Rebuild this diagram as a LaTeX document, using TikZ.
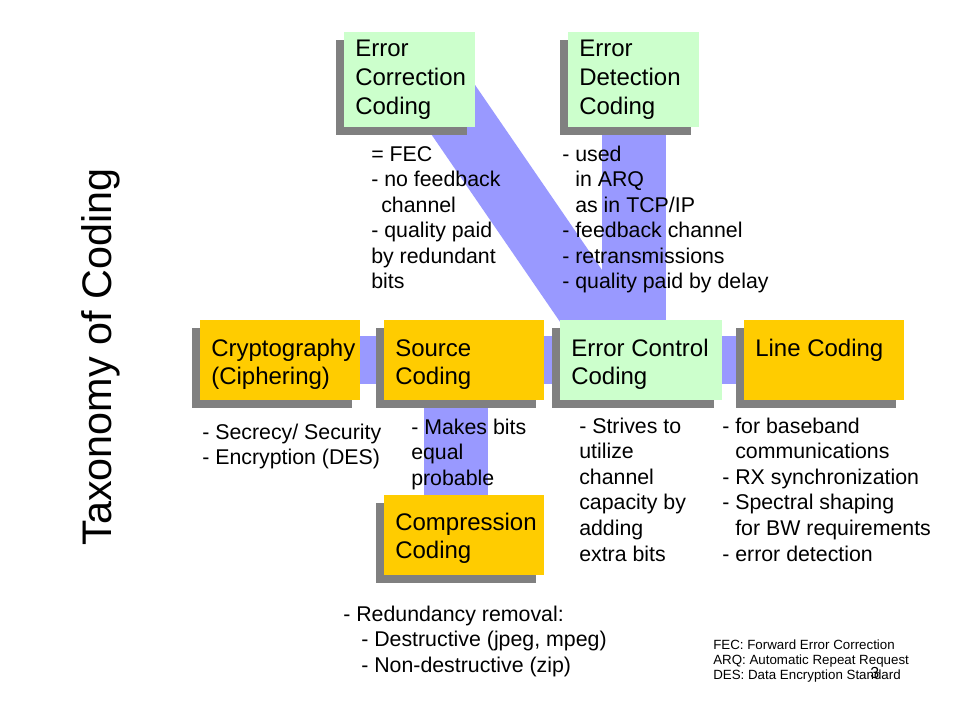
\documentclass[tikz,border=0pt]{standalone}
\usepackage{fontspec}
\setmainfont{Liberation Sans}
\usetikzlibrary{shadows,backgrounds,calc}

\definecolor{codeyellow}{HTML}{FFCC00}
\definecolor{codegreen}{HTML}{CCFFCC}
\definecolor{bandblue}{HTML}{9999FF}
\definecolor{boxgray}{HTML}{808080}

\tikzset{
  box/.style={rectangle, inner sep=0pt, drop shadow={shadow xshift=-6pt, shadow yshift=-6pt, fill=boxgray, opacity=1}},
  codebox/.style={box, fill=codeyellow, minimum width=120pt, minimum height=60pt},
  ctrlbox/.style={box, fill=codegreen},
  band/.style={draw=bandblue, line width=48pt},
  boxtext/.style={anchor=base west, inner sep=0pt, align=left, font=\fontsize{18}{21.6}\selectfont},
  note/.style={anchor=base west, inner sep=0pt, align=left, font=\fontsize{16}{19.2}\selectfont},
}

\begin{document}
\begin{tikzpicture}[x=0.75pt,y=0.75pt,yscale=-1,xscale=1]
\path[use as bounding box] (0,0) rectangle (960,720);

% Boxes
\node[ctrlbox, minimum width=98.25pt, minimum height=71.25pt] (corr) at (409.5,79.5) {};
\node[ctrlbox, minimum width=98.25pt, minimum height=71.25pt] (detect) at (633.5,79.5) {};
\node[codebox] (crypt) at (280,360) {};
\node[codebox] (source) at (463.5,360) {};
\node[ctrlbox, minimum width=121.5pt, minimum height=60pt] (control) at (641,360) {};
\node[codebox] (line) at (823.5,360) {};
\node[codebox] (compress) at (463.5,535) {};

% Bands
\begin{scope}[on background layer]
\draw[band, line width=36pt] (crypt) -- (line);
\draw[band] ($(source.center)+(-7.5,0)$) -- ($(compress.center)+(-7.5,0)$);
\draw[band] (detect.center) -- (detect.center |- control.center);
\draw[band] ($(corr.center)+(23,0)$) -- ($(control.center)+(-16,0)$);
\end{scope}

% Text Nodes (anchored at the baseline of the last line)
\draw (111,357) node [rotate=90, anchor=base, inner sep=0pt, font=\fontsize{31}{37}\selectfont] (title) {Taxonomy of Coding};

\draw (355,114.6) node [boxtext] (corrtext) {Error\\Correction\\Coding};

\draw (579,114.6) node [boxtext] (detecttext) {Error\\Detection\\Coding};

\draw (211,384.8) node [boxtext] (crypttext) {Cryptography\\(Ciphering)};

\draw (395,384.8) node [boxtext] (sourcetext) {Source\\Coding};

\draw (571,384.8) node [boxtext] (controltext) {Error Control\\Coding};

\draw (755,356) node [boxtext] (linetext) {Line Coding};

\draw (395,558.8) node [boxtext] (compresstext) {Compression\\Coding};

\draw (371,289) node [note] (corrnote) {= FEC\\- no feedback\\\hspace*{7.5pt}channel\\- quality paid\\by redundant\\bits};

\draw (562,289) node [note] (detectnote) {- used\\\hphantom{- }in ARQ\\\hphantom{- }as in TCP/IP\\- feedback channel\\- retransmissions\\- quality paid by delay};

\draw (202,464.6) node [note] (cryptnote) {- Secrecy/ Security\\- Encryption (DES)};

\draw (411,485.2) node [note] (sourcenote) {- Makes bits\\equal\\probable};

\draw (579,561) node [note] (controlnote) {- Strives to\\utilize\\channel\\capacity by\\adding\\extra bits};

\draw (722,561) node [note] (linenote) {- for baseband\\\hphantom{- }communications\\- RX synchronization\\- Spectral shaping\\\hphantom{- }for BW requirements\\- error detection};

\draw (343,672.2) node [note] (compressnote) {- Redundancy removal:\\\hspace*{13.5pt}- Destructive (jpeg, mpeg)\\\hspace*{13.5pt}- Non-destructive (zip)};

\draw (713,679) node [anchor=base west, inner sep=0pt, align=left, font=\fontsize{10}{11.25}\selectfont] (legend) {FEC: Forward Error Correction\\ARQ: Automatic Repeat Request\\DES: Data Encryption Standard};

\draw (870,678) node [anchor=base west, inner sep=0pt, font=\fontsize{12}{14}\selectfont] (pagenum) {3};

\end{tikzpicture}
\end{document}
